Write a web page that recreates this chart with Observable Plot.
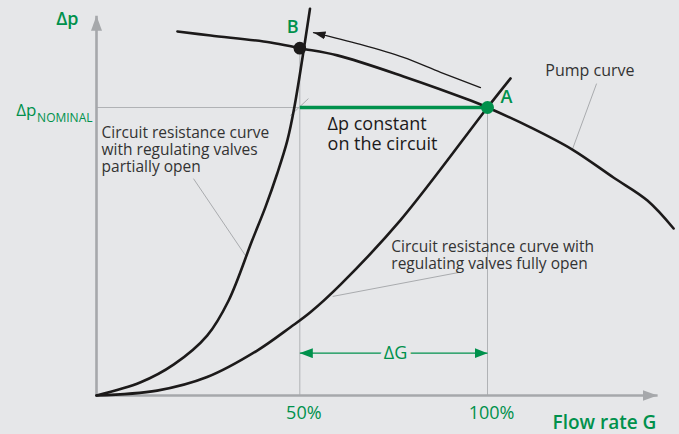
<!DOCTYPE html>
<html><head><meta charset="utf-8">
<script src="https://cdn.jsdelivr.net/npm/d3@7"></script>
<script src="https://cdn.jsdelivr.net/npm/@observablehq/plot@0.6"></script>
<style>html,body{margin:0;padding:0;background:#e6e7e9;} svg{display:block}</style>
</head><body><div id="chart"></div>
<script>
// ---- data (x: flow rate %, y: Δp % of nominal) ----
const pumpCurve = [[20.7,126.4],[29.2,125.0],[44.5,122.6],[52.0,120.6],[61.6,118.1],[78.5,110.8],[95.7,102.4],[100,100],[111.0,93.1],[121.7,85.4],[132.2,75.7],[140.9,67.7],[147.6,58.0]];
const fullyOpenCurve = [[0,0],[15.5,1.7],[28.3,6.4],[41.1,15.6],[49.6,23.7],[54.7,28.9],[62.4,38.5],[77.7,60.8],[100,100],[105.9,110.1]];
const partiallyOpenCurve = [[0,0],[11.3,4.6],[19.8,10.8],[28.3,20.8],[33.8,33.0],[39.8,53.8],[43.2,65.4],[46.2,77.0],[48.8,88.5],[50.6,100.1],[54.6,134.3]];
const movementArrow = [[98.2,106.9],[88.0,112.2],[78.5,117.4],[67.5,121.9],[55.5,126.0]];
const pointA = [100, 100];
const pointB = [52.0, 120.6];
const nominalDp = 100;
const xTickPositions = [52, 100];
const xTickLabels = ["50%", "100%"];
const axisEnds = [143.5, 131.9];
const leaders = [
  [[24.8,75.3],[38.1,48.6]],
  [[92.6,42.7],[60.4,34.4]],
  [[127.9,108.3],[121.7,85.4]],
  [[49.6,97.2],[54.2,103.1]]
];

const green = "#00914c";
const bg = "#e6e7e9";
const axisGrey = "#a6a8ab";
const guideGrey = "#b0b2b5";
const ink = "#1c1a1a";
const textInk = "#333333";

function arrowMarker(len, wid) {
  return (color) => {
    const m = d3.create("svg:marker")
      .attr("viewBox", `0 ${-wid/2} ${len} ${wid}`)
      .attr("refX", len).attr("refY", 0)
      .attr("markerWidth", len).attr("markerHeight", wid)
      .attr("markerUnits", "userSpaceOnUse")
      .attr("orient", "auto-start-reverse");
    m.append("path").attr("d", `M0,${-wid/2}L${len},0L0,${wid/2}Z`).attr("fill", color).attr("stroke", "none");
    return m.node();
  };
}

const font = "'Open Sans', 'Noto Sans', sans-serif";

const chart = Plot.plot({
  width: 679, height: 434,
  marginLeft: 96, marginBottom: 39, marginTop: 0, marginRight: 0,
  x: {domain: [0, 100], range: [96, 487], axis: null},
  y: {domain: [0, 100], range: [395, 107], axis: null},
  style: {background: bg, fontFamily: font, overflow: "visible"},
  marks: [
    // guide lines
    Plot.link([0], {x1: 0, x2: pointB[0], y1: nominalDp, y2: nominalDp, stroke: guideGrey, strokeWidth: 1}),
    Plot.link([0], {x1: pointB[0], x2: pointB[0], y1: 0, y2: pointB[1], stroke: guideGrey, strokeWidth: 1}),
    Plot.link([0], {x1: pointA[0], x2: pointA[0], y1: 0, y2: pointA[1], stroke: guideGrey, strokeWidth: 1}),
    // leaders
    Plot.link(leaders, {x1: d => d[0][0], y1: d => d[0][1], x2: d => d[1][0], y2: d => d[1][1], stroke: "#a9abae", strokeWidth: 1}),
    // axes
    Plot.link([0], {x1: 0, y1: 0, x2: axisEnds[0], y2: 0, stroke: axisGrey, strokeWidth: 2.6, markerEnd: arrowMarker(15, 11)}),
    Plot.link([0], {x1: 0, y1: 0, x2: 0, y2: axisEnds[1], stroke: axisGrey, strokeWidth: 2.6, markerEnd: arrowMarker(15, 11)}),
    Plot.axisX({ticks: xTickPositions, tickFormat: (d) => xTickLabels[xTickPositions.indexOf(d)], tickSize: 0, tickPadding: 11, fontSize: 18, color: green, dx: 4}),
    // Δp constant green line
    Plot.link([0], {x1: pointB[0], x2: pointA[0], y1: nominalDp, y2: nominalDp, stroke: green, strokeWidth: 3.4}),
    // ΔG arrow
    Plot.link([0], {x1: pointB[0], x2: pointA[0], y1: 14.7, y2: 14.7, stroke: green, strokeWidth: 1.4, markerStart: arrowMarker(13, 10), markerEnd: arrowMarker(13, 10)}),
    Plot.text(["ΔG"], {x: 76.5, y: 14.7, fill: green, stroke: bg, strokeWidth: 9, fontSize: 18}),
    // curves
    Plot.line(fullyOpenCurve, {x: d => d[0], y: d => d[1], curve: "catmull-rom", stroke: ink, strokeWidth: 2.6}),
    Plot.line(partiallyOpenCurve, {x: d => d[0], y: d => d[1], curve: "catmull-rom", stroke: ink, strokeWidth: 2.6}),
    Plot.line(pumpCurve, {x: d => d[0], y: d => d[1], curve: "catmull-rom", stroke: ink, strokeWidth: 2.6}),
    Plot.line(movementArrow, {x: d => d[0], y: d => d[1], curve: "catmull-rom", stroke: ink, strokeWidth: 1.3, markerEnd: arrowMarker(12, 8)}),
    // points
    Plot.dot([pointB], {x: d => d[0], y: d => d[1], r: 6.3, fill: ink}),
    Plot.dot([pointA], {x: d => d[0], y: d => d[1], r: 6.5, fill: green}),
    // labels
    Plot.text(["B"], {x: 51.7, y: 125.7, textAnchor: "end", lineAnchor: "bottom", fill: green, fontSize: 18, fontWeight: 600}),
    Plot.text(["A"], {x: 103.3, y: 101.4, textAnchor: "start", lineAnchor: "bottom", fill: green, fontSize: 18, fontWeight: 600}),
    Plot.text(["Δp"], {x: 0, dx: -18, y: 128.5, textAnchor: "end", lineAnchor: "bottom", fill: green, fontSize: 18, fontWeight: 600}),
    Plot.text(["Δp"], {x: 0, y: nominalDp, dx: -60, dy: 8, textAnchor: "end", lineAnchor: "bottom", fill: green, fontSize: 17}),
    Plot.text(["NOMINAL"], {x: 0, y: nominalDp, dx: -4, dy: 14, textAnchor: "end", lineAnchor: "bottom", fill: green, fontSize: 12}),
    Plot.text(["Δp constant\non the circuit"], {x: 59.1, y: 97.0, textAnchor: "start", lineAnchor: "top", lineHeight: 1.1, fill: ink, fontSize: 18}),
    Plot.text(["Circuit resistance curve\nwith regulating valves\npartially open"], {x: 1.3, y: 93.5, textAnchor: "start", lineAnchor: "top", lineHeight: 1.08, fill: textInk, fontSize: 15.5}),
    Plot.text(["Pump curve"], {x: 114.8, y: 111.1, textAnchor: "start", lineAnchor: "bottom", fill: textInk, fontSize: 16}),
    Plot.text(["Circuit resistance curve with\nregulating valves fully open"], {x: 75.4, y: 54.3, textAnchor: "start", lineAnchor: "top", lineHeight: 1.13, fill: textInk, fontSize: 15.5}),
    Plot.text(["Flow rate G"], {x: 143.2, y: -11.5, textAnchor: "end", lineAnchor: "bottom", fill: green, fontSize: 19, fontWeight: 600})
  ]
});
document.getElementById("chart").append(chart);
</script>
</body></html>
